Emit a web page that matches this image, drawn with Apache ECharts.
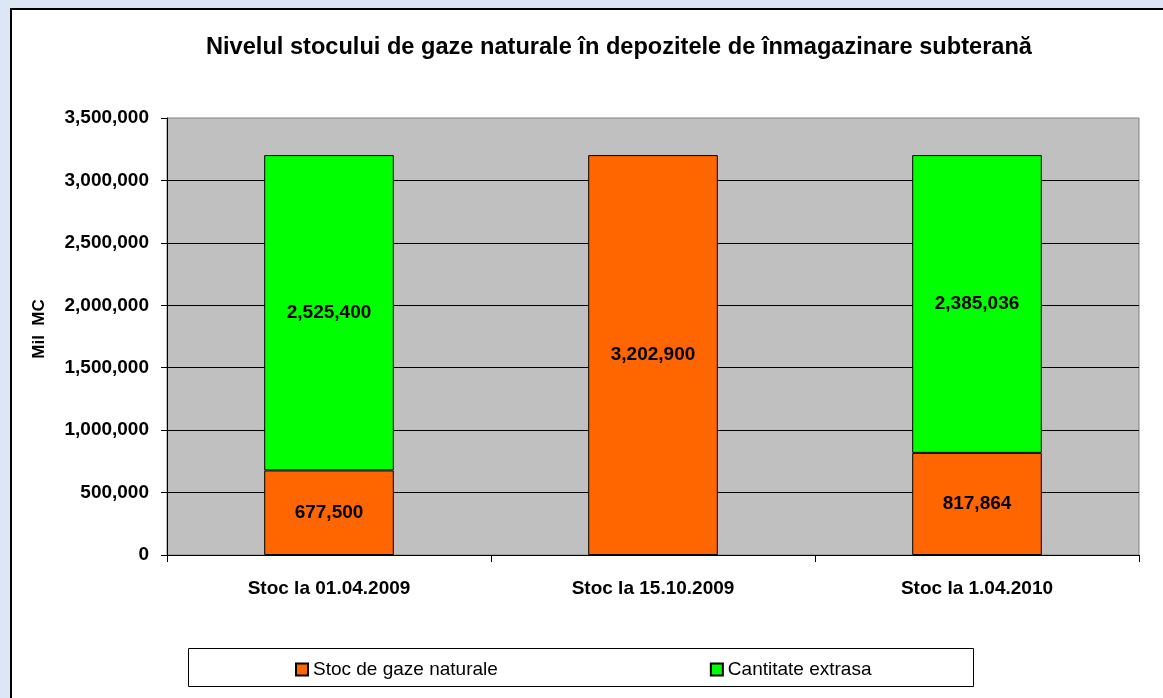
<!DOCTYPE html>
<html>
<head>
<meta charset="utf-8">
<script src="https://cdn.jsdelivr.net/npm/echarts@6/dist/echarts.min.js"></script>
<style>
html,body{margin:0;padding:0;background:#DCE6F4;}
#chart{width:1163px;height:698px;}
</style>
</head>
<body>
<div id="chart"></div>
<script>
const titleText = 'Nivelul stocului de gaze naturale în depozitele de înmagazinare subterană';
const yAxisTitle = 'Mil  MC';
const categories = ['Stoc la 01.04.2009', 'Stoc la 15.10.2009', 'Stoc la 1.04.2010'];
const seriesNames = ['Stoc de gaze naturale', 'Cantitate extrasa'];
const stocValues = [677500, 3202900, 817864];
const extrasaValues = [2525400, null, 2385036];
const yMin = 0, yMax = 3500000, yInterval = 500000;

const FONT = '"Liberation Sans", Arial, sans-serif';
const fmt = v => Number(v).toLocaleString('en-US');

const chart = echarts.init(document.getElementById('chart'), null, {renderer: 'canvas'});
chart.setOption({
  backgroundColor: 'transparent',
  animation: false,
  textStyle: {fontFamily: FONT},
  graphic: [
    {type: 'rect', z: -10, silent: true,
     shape: {x: 11, y: 9, width: 1400, height: 900},
     style: {fill: '#FFFFFF', stroke: '#000000', lineWidth: 2}},
    {type: 'rect', z: -5, silent: true,
     shape: {x: 188.5, y: 648.5, width: 785, height: 38},
     style: {fill: '#FFFFFF', stroke: '#000000', lineWidth: 1}},
    {type: 'text', x: 619, y: 47, silent: true,
     style: {text: titleText, font: 'bold 23.6px ' + FONT, fill: '#000',
             align: 'center', verticalAlign: 'middle'}},
    {type: 'text', x: 39, y: 329, rotation: Math.PI / 2, silent: true,
     style: {text: yAxisTitle, font: 'bold 17px ' + FONT, fill: '#000',
             align: 'center', verticalAlign: 'middle'}}
  ],
  legend: {
    left: 295, top: 660,
    itemWidth: 12, itemHeight: 12, itemGap: 212,
    icon: 'rect',
    padding: 0,
    textStyle: {fontSize: 19, color: '#000', fontFamily: FONT, padding: [0, 0, 0, 0]},
    data: seriesNames
  },
  grid: {
    left: 167, right: 24, top: 118, bottom: 143,
    show: true, backgroundColor: '#C0C0C0', borderColor: '#808080', borderWidth: 1,
    containLabel: false
  },
  xAxis: {
    type: 'category',
    data: categories,
    axisLine: {show: true, lineStyle: {color: '#000', width: 1}},
    axisTick: {show: true, length: 7, alignWithLabel: false, lineStyle: {color: '#000'}},
    axisLabel: {fontSize: 19, fontWeight: 'bold', color: '#000', margin: 24, fontFamily: FONT},
    splitLine: {show: false}
  },
  yAxis: {
    type: 'value',
    min: yMin, max: yMax, interval: yInterval,
    axisLine: {show: true, lineStyle: {color: '#000', width: 1}},
    axisTick: {show: true, length: 6, inside: false, lineStyle: {color: '#000'}},
    axisLabel: {fontSize: 19, fontWeight: 'bold', color: '#000', margin: 18, fontFamily: FONT,
                padding: [4, 0, 0, 0], formatter: fmt},
    splitLine: {show: true, showMaxLine: false, showMinLine: false, lineStyle: {color: '#000', width: 1}}
  },
  series: [
    {
      name: seriesNames[0], type: 'bar', stack: 'total', data: stocValues,
      barWidth: '40%',
      itemStyle: {color: '#FF6600', borderColor: '#000', borderWidth: 1},
      label: {show: true, position: 'inside', fontSize: 19, fontWeight: 'bold', color: '#000',
              fontFamily: FONT, formatter: p => fmt(p.value)}
    },
    {
      name: seriesNames[1], type: 'bar', stack: 'total', data: extrasaValues,
      barWidth: '40%',
      itemStyle: {color: '#00FF00', borderColor: '#000', borderWidth: 1},
      label: {show: true, position: 'inside', fontSize: 19, fontWeight: 'bold', color: '#000',
              fontFamily: FONT, formatter: p => fmt(p.value)}
    }
  ]
});
</script>
</body>
</html>
